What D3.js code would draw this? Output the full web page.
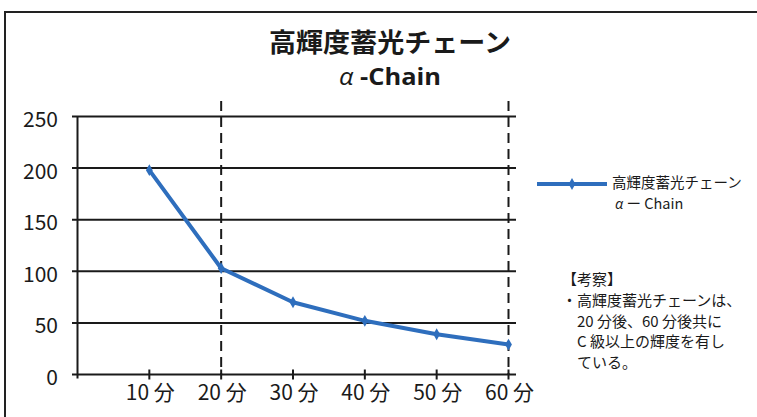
<!DOCTYPE html>
<html><head><meta charset="utf-8">
<script src="https://cdn.jsdelivr.net/npm/d3@7"></script>
<style>body{margin:0;background:#fff}svg{display:block}</style>
</head><body>
<script>
const categories = [10, 20, 30, 40, 50, 60];
const catLabels = ["10 分","20 分","30 分","40 分","50 分","60 分"];
const values = [198, 103, 70, 52, 39, 29];
const yTicks = [0, 50, 100, 150, 200, 250];
const dashedAt = [20, 60];
const titleLines = ["高輝度蓄光チェーン", "α", " -Chain"];
const legendLines = ["高輝度蓄光チェーン", "α", " ー Chain"];
const noteLines = ["【考察】", "・高輝度蓄光チェーンは、", "　20 分後、60 分後共に", "　C 級以上の輝度を有し", "　ている。"];

const W = 757, H = 417;
const font = "'Noto Sans CJK JP','Noto Sans',sans-serif";
const svg = d3.select("body").append("svg").attr("width", W).attr("height", H);

// frame
svg.append("rect").attr("x",5).attr("y",12).attr("width",W).attr("height",H)
  .attr("fill","none").attr("stroke","#222").attr("stroke-width",2);

const x = d3.scaleLinear().domain([0,60]).range([77.5,508.5]);
const y = d3.scaleLinear().domain([0,250]).range([374.5,116.5]);
const ink = "#1a1a1a";

// title
svg.append("text").attr("x",390).attr("y",52).attr("text-anchor","middle")
  .attr("font-family",font).attr("font-weight","bold").attr("font-size",26).attr("fill",ink)
  .attr("textLength",242).attr("lengthAdjust","spacingAndGlyphs").text(titleLines[0]);
const t2 = svg.append("text").attr("x",390).attr("y",85).attr("text-anchor","middle")
  .attr("font-family","'Open Sans',sans-serif").attr("font-weight","bold").attr("font-size",24).attr("fill",ink)
  .attr("textLength",102).attr("lengthAdjust","spacingAndGlyphs");
t2.append("tspan").attr("font-style","italic").attr("font-weight","normal").text(titleLines[1]);
t2.append("tspan").text(titleLines[2]);

// horizontal grid
svg.append("g").selectAll("line").data(yTicks).join("line")
  .attr("x1",72).attr("x2",516).attr("y1",d=>y(d)).attr("y2",d=>y(d))
  .attr("stroke",ink).attr("stroke-width",2);
// y axis line
svg.append("line").attr("x1",x(0)).attr("x2",x(0)).attr("y1",y(250)).attr("y2",y(0)+4)
  .attr("stroke",ink).attr("stroke-width",2);
// y labels
svg.append("g").selectAll("text").data(yTicks).join("text")
  .attr("x",58).attr("y",d=>y(d)+10.5).attr("text-anchor","end")
  .attr("font-family",font).attr("font-size",21).attr("fill",ink).text(d=>d);

// dashed verticals
svg.append("g").selectAll("line").data(dashedAt).join("line")
  .attr("x1",d=>x(d)).attr("x2",d=>x(d)).attr("y1",101).attr("y2",y(0))
  .attr("stroke",ink).attr("stroke-width",2).attr("stroke-dasharray","10,6");

// x ticks
svg.append("g").selectAll("line").data(categories).join("line")
  .attr("x1",d=>x(d)).attr("x2",d=>x(d)).attr("y1",y(0)-5).attr("y2",y(0)+5)
  .attr("stroke",ink).attr("stroke-width",2);
svg.append("g").selectAll("text").data(categories).join("text")
  .attr("x",d=>x(d)+1).attr("y",400).attr("text-anchor","middle")
  .attr("font-family",font).attr("font-size",21).attr("fill",ink).text((d,i)=>catLabels[i]);

// series
const blue = "#2e6ebd";
const line = d3.line().x((d,i)=>x(categories[i])).y(d=>y(d));
svg.append("path").datum(values).attr("d",line).attr("fill","none")
  .attr("stroke",blue).attr("stroke-width",4).attr("stroke-linejoin","round");
const diamond = d3.symbol().type(d3.symbolDiamond).size(40);
svg.append("g").selectAll("path").data(values).join("path")
  .attr("d",diamond).attr("transform",(d,i)=>`translate(${x(categories[i])},${y(d)})`)
  .attr("fill",blue);

// legend
svg.append("line").attr("x1",537).attr("x2",607).attr("y1",184).attr("y2",184)
  .attr("stroke",blue).attr("stroke-width",4);
svg.append("path").attr("d",diamond).attr("transform","translate(572,184)").attr("fill",blue);
svg.append("text").attr("x",612).attr("y",188).attr("font-family",font).attr("font-size",14.5)
  .attr("fill",ink).text(legendLines[0]);
const lg2 = svg.append("text").attr("x",615).attr("y",209).attr("font-family",font).attr("font-size",14.5)
  .attr("fill",ink).attr("xml:space","preserve").style("white-space","pre");
lg2.append("tspan").attr("font-style","italic").attr("font-family","'Open Sans',sans-serif").text(legendLines[1]);
lg2.append("tspan").text(legendLines[2]);

// notes
const notes = svg.append("text").attr("font-family",font).attr("font-size",15).attr("fill",ink)
  .attr("xml:space","preserve").style("white-space","pre");
notes.selectAll("tspan").data(noteLines).join("tspan")
  .attr("x",562).attr("y",(d,i)=>285+i*20.8).text(d=>d);
</script>
</body></html>
